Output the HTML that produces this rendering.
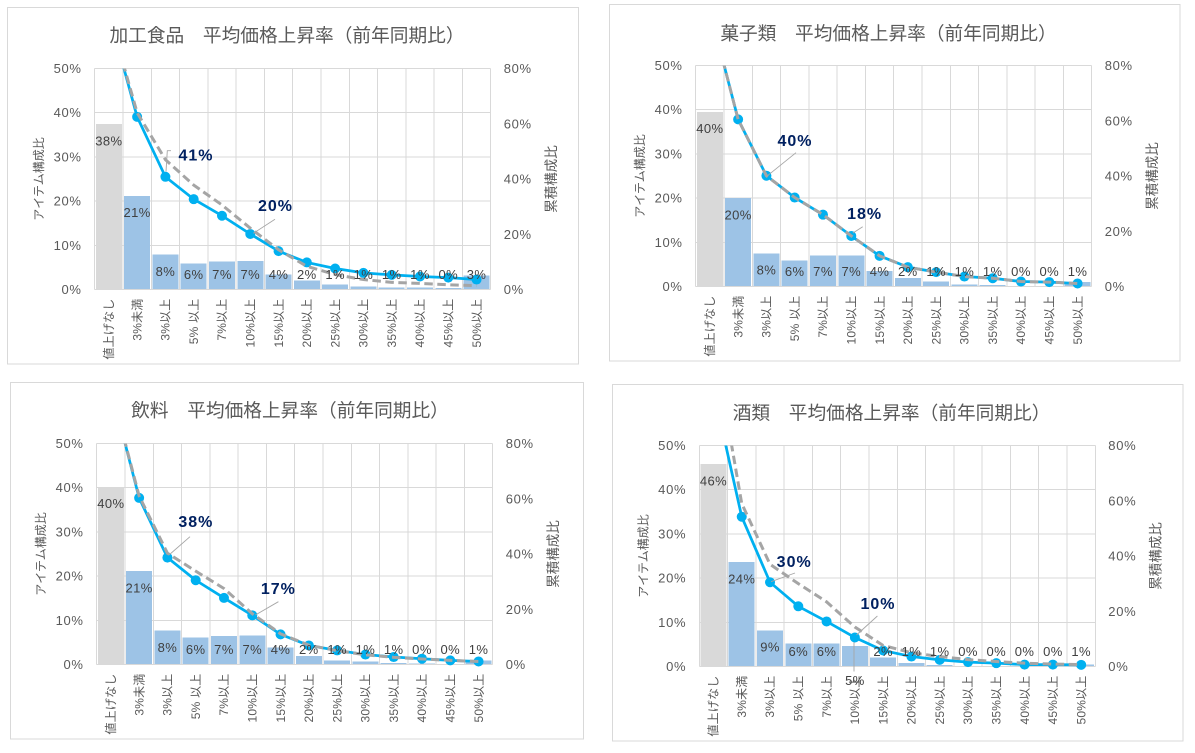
<!DOCTYPE html>
<html><head><meta charset="utf-8">
<style>
html,body{margin:0;padding:0;background:#fff;}
svg{display:block;}
text{font-family:"Liberation Sans","Noto Sans CJK JP",sans-serif;}
.ti{font-size:18.7px;fill:#595959;text-anchor:middle;}
.tkl text{font-size:13px;fill:#595959;text-anchor:end;letter-spacing:0.7px;}
.tkr text{font-size:13px;fill:#595959;text-anchor:start;letter-spacing:0.7px;}
.dl text{font-size:13px;fill:#404040;text-anchor:middle;letter-spacing:0.4px;}
.xl text{font-size:12px;fill:#595959;text-anchor:end;letter-spacing:0.2px;}
.hl{font-size:16px;font-weight:bold;fill:#002060;text-anchor:middle;letter-spacing:1px;}
.at{fill:#595959;text-anchor:middle;}
.grid{fill:none;stroke:#D9D9D9;stroke-width:1;}
.blue{fill:none;stroke:#00B0F0;stroke-width:2.75;stroke-linejoin:round;}
.gray{fill:none;stroke:#A5A5A5;stroke-width:3;stroke-dasharray:8.5 4.5;}
.mk circle{fill:#00B0F0;}
.ld{fill:none;stroke:#A6A6A6;stroke-width:0.9;}
.bb rect{fill:#9DC3E6;}
</style></head>
<body>
<svg width="1195" height="753" viewBox="0 0 1195 753" xmlns="http://www.w3.org/2000/svg">
<defs>
<path id="grid" d="M0 0H396M0 44.2H396M0 88.4H396M0 132.6H396M0 176.8H396M0 0V221M28.29 0V221M56.57 0V221M84.86 0V221M113.14 0V221M141.43 0V221M169.71 0V221M198 0V221M226.29 0V221M254.57 0V221M282.86 0V221M311.14 0V221M339.43 0V221M367.71 0V221M396 0V221"/>
<clipPath id="cp"><rect x="-20" y="0" width="440" height="260"/></clipPath>
</defs>
<rect x="0" y="0" width="1195" height="753" fill="#fff"/>

<!-- Borders -->
<rect x="7.5" y="7.5" width="571" height="356.5" fill="none" stroke="#D9D9D9"/>
<rect x="609.5" y="4.5" width="570.5" height="356.5" fill="none" stroke="#D9D9D9"/>
<rect x="10.5" y="382.5" width="573" height="356.5" fill="none" stroke="#D9D9D9"/>
<rect x="612.5" y="384.5" width="570.5" height="356.5" fill="none" stroke="#D9D9D9"/>

<!-- Titles -->
<text class="ti" x="287" y="42">加工食品　平均価格上昇率（前年同期比）</text>
<text class="ti" x="888.5" y="40">菓子類　平均価格上昇率（前年同期比）</text>
<text class="ti" x="290" y="417">飲料　平均価格上昇率（前年同期比）</text>
<text class="ti" x="891.6" y="419.7">酒類　平均価格上昇率（前年同期比）</text>

<!-- ================= CHART 1 ================= -->
<g transform="translate(94.7,68.5)">
<use href="#grid" class="grid" shape-rendering="crispEdges"/>
<g shape-rendering="crispEdges">
<rect x="1.14" y="55.7" width="26" height="165.3" fill="#D9D9D9"/>
<g class="bb">
<rect x="29.43" y="127.3" width="26" height="93.7"/>
<rect x="57.71" y="186.1" width="26" height="34.9"/>
<rect x="86" y="194.9" width="26" height="26.1"/>
<rect x="114.29" y="193.2" width="26" height="27.8"/>
<rect x="142.57" y="192.3" width="26" height="28.7"/>
<rect x="170.86" y="206" width="26" height="15"/>
<rect x="199.14" y="212.2" width="26" height="8.8"/>
<rect x="227.43" y="216.1" width="26" height="4.9"/>
<rect x="255.71" y="217.9" width="26" height="3.1"/>
<rect x="284" y="219" width="26" height="2"/>
<rect x="312.29" y="218.8" width="26" height="2.2"/>
<rect x="340.57" y="219.7" width="26" height="1.3"/>
<rect x="368.86" y="206.9" width="26" height="14.1"/>
</g>
<path d="M0 221H396" stroke="#D9D9D9" stroke-width="1"/>
</g>
<g clip-path="url(#cp)">
<polyline class="blue" points="14.14,-55.25 42.43,48.34 70.71,108.29 99,130.67 127.29,147.24 155.57,165.47 183.86,182.6 212.14,193.93 240.43,200 268.71,204.42 297,206.36 325.29,208.02 353.57,209.12 381.86,211.05"/>
<g class="mk">
<circle cx="42.43" cy="48.34" r="5"/><circle cx="70.71" cy="108.29" r="5"/><circle cx="99" cy="130.67" r="5"/><circle cx="127.29" cy="147.24" r="5"/><circle cx="155.57" cy="165.47" r="5"/><circle cx="183.86" cy="182.6" r="5"/><circle cx="212.14" cy="193.93" r="5"/><circle cx="240.43" cy="200" r="5"/><circle cx="268.71" cy="204.42" r="5"/><circle cx="297" cy="206.36" r="5"/><circle cx="325.29" cy="208.02" r="5"/><circle cx="353.57" cy="209.12" r="5"/><circle cx="381.86" cy="211.05" r="5"/>
</g>
<polyline class="gray" points="14.14,-55.25 42.43,44.2 70.71,91.16 99,116.58 127.29,136.47 155.57,159.67 183.86,181.22 212.14,197.8 240.43,206.08 268.71,211.05 297,213.82 325.29,214.92 353.57,216.3 381.86,217.13"/>
</g>
<g class="dl">
<text x="14.14" y="77">38%</text><text x="42.43" y="148.6">21%</text><text x="70.71" y="207.4">8%</text><text x="99" y="210.7">6%</text><text x="127.29" y="210.7">7%</text><text x="155.57" y="210.7">7%</text><text x="183.86" y="210.7">4%</text><text x="212.14" y="210.7">2%</text><text x="240.43" y="210.7">1%</text><text x="268.71" y="210.7">1%</text><text x="297" y="210.7">1%</text><text x="325.29" y="210.7">1%</text><text x="353.57" y="210.7">0%</text><text x="381.86" y="210.7">3%</text>
</g>
<polyline class="ld" points="71.3,103.2 72.6,82.2 76.3,82.2"/>
<line class="ld" x1="158.6" y1="164.8" x2="180.3" y2="150.8"/>
<text class="hl" x="101.3" y="92">41%</text>
<text class="hl" x="180.8" y="142.7">20%</text>
<g class="tkl">
<text x="-13" y="225.5">0%</text><text x="-13" y="181.3">10%</text><text x="-13" y="137.1">20%</text><text x="-13" y="92.9">30%</text><text x="-13" y="48.7">40%</text><text x="-13" y="4.5">50%</text>
</g>
<g class="tkr">
<text x="409" y="225.5">0%</text><text x="409" y="170.25">20%</text><text x="409" y="115">40%</text><text x="409" y="59.75">60%</text><text x="409" y="4.5">80%</text>
</g>
<text class="at" font-size="12" transform="translate(-56,110.5) rotate(-90)" dy="0.35em">アイテム構成比</text>
<text class="at" font-size="13.5" transform="translate(456.5,110.5) rotate(-90)" dy="0.35em">累積構成比</text>
<g class="xl">
<text transform="translate(14.14,230) rotate(-90)" dy="0.35em">値上げなし</text>
<text transform="translate(42.43,230) rotate(-90)" dy="0.35em">3%未満</text>
<text transform="translate(70.71,230) rotate(-90)" dy="0.35em">3%以上</text>
<text transform="translate(99,230) rotate(-90)" dy="0.35em">5% 以上</text>
<text transform="translate(127.29,230) rotate(-90)" dy="0.35em">7%以上</text>
<text transform="translate(155.57,230) rotate(-90)" dy="0.35em">10%以上</text>
<text transform="translate(183.86,230) rotate(-90)" dy="0.35em">15%以上</text>
<text transform="translate(212.14,230) rotate(-90)" dy="0.35em">20%以上</text>
<text transform="translate(240.43,230) rotate(-90)" dy="0.35em">25%以上</text>
<text transform="translate(268.71,230) rotate(-90)" dy="0.35em">30%以上</text>
<text transform="translate(297,230) rotate(-90)" dy="0.35em">35%以上</text>
<text transform="translate(325.29,230) rotate(-90)" dy="0.35em">40%以上</text>
<text transform="translate(353.57,230) rotate(-90)" dy="0.35em">45%以上</text>
<text transform="translate(381.86,230) rotate(-90)" dy="0.35em">50%以上</text>
</g>
</g>

<!-- ================= CHART 2 ================= -->
<g transform="translate(695.7,65.5)">
<use href="#grid" class="grid" shape-rendering="crispEdges"/>
<g shape-rendering="crispEdges">
<rect x="1.14" y="46.4" width="26" height="174.6" fill="#D9D9D9"/>
<g class="bb">
<rect x="29.43" y="132.6" width="26" height="88.4"/>
<rect x="57.71" y="187.85" width="26" height="33.15"/>
<rect x="86" y="194.92" width="26" height="26.08"/>
<rect x="114.29" y="190.06" width="26" height="30.94"/>
<rect x="142.57" y="190.06" width="26" height="30.94"/>
<rect x="170.86" y="205.53" width="26" height="15.47"/>
<rect x="199.14" y="212.6" width="26" height="8.4"/>
<rect x="227.43" y="216.14" width="26" height="4.86"/>
<rect x="255.71" y="218.79" width="26" height="2.21"/>
<rect x="284" y="219.67" width="26" height="1.33"/>
<rect x="312.29" y="220.34" width="26" height="0.66"/>
<rect x="340.57" y="220.56" width="26" height="0.44"/>
<rect x="368.86" y="216.58" width="26" height="4.42"/>
</g>
<path d="M0 221H396" stroke="#D9D9D9" stroke-width="1"/>
</g>
<g clip-path="url(#cp)">
<polyline class="blue" points="14.14,-55.25 42.43,53.87 70.71,110.22 99,132.05 127.29,149.17 155.57,170.45 183.86,190.34 212.14,201.66 240.43,206.63 268.71,211.05 297,212.71 325.29,216.03 353.57,216.58 381.86,217.96"/>
<g class="mk">
<circle cx="42.43" cy="53.87" r="5"/><circle cx="70.71" cy="110.22" r="5"/><circle cx="99" cy="132.05" r="5"/><circle cx="127.29" cy="149.17" r="5"/><circle cx="155.57" cy="170.45" r="5"/><circle cx="183.86" cy="190.34" r="5"/><circle cx="212.14" cy="201.66" r="5"/><circle cx="240.43" cy="206.63" r="5"/><circle cx="268.71" cy="211.05" r="5"/><circle cx="297" cy="212.71" r="5"/><circle cx="325.29" cy="216.03" r="5"/><circle cx="353.57" cy="216.58" r="5"/><circle cx="381.86" cy="217.96" r="5"/>
</g>
<polyline class="gray" points="14.14,-55.25 42.43,53.87 70.71,110.22 99,132.05 127.29,149.17 155.57,170.45 183.86,190.34 212.14,201.66 240.43,206.63 268.71,211.05 297,212.71 325.29,216.03 353.57,216.58 381.86,217.96"/>
</g>
<g class="dl">
<text x="14.14" y="67.7">40%</text><text x="42.43" y="153.9">20%</text><text x="70.71" y="209.15">8%</text><text x="99" y="210.7">6%</text><text x="127.29" y="210.7">7%</text><text x="155.57" y="210.7">7%</text><text x="183.86" y="210.7">4%</text><text x="212.14" y="210.7">2%</text><text x="240.43" y="210.7">1%</text><text x="268.71" y="210.7">1%</text><text x="297" y="210.7">1%</text><text x="325.29" y="210.7">0%</text><text x="353.57" y="210.7">0%</text><text x="381.86" y="210.7">1%</text>
</g>
<line class="ld" x1="71.8" y1="110.2" x2="100.3" y2="87.2"/>
<line class="ld" x1="157.3" y1="167.5" x2="167" y2="161.2"/>
<text class="hl" x="99.3" y="80.3">40%</text>
<text class="hl" x="168.9" y="153.7">18%</text>
<g class="tkl">
<text x="-13" y="225.5">0%</text><text x="-13" y="181.3">10%</text><text x="-13" y="137.1">20%</text><text x="-13" y="92.9">30%</text><text x="-13" y="48.7">40%</text><text x="-13" y="4.5">50%</text>
</g>
<g class="tkr">
<text x="409" y="225.5">0%</text><text x="409" y="170.25">20%</text><text x="409" y="115">40%</text><text x="409" y="59.75">60%</text><text x="409" y="4.5">80%</text>
</g>
<text class="at" font-size="12" transform="translate(-56,110.5) rotate(-90)" dy="0.35em">アイテム構成比</text>
<text class="at" font-size="13.5" transform="translate(456.5,110.5) rotate(-90)" dy="0.35em">累積構成比</text>
<g class="xl">
<text transform="translate(14.14,230) rotate(-90)" dy="0.35em">値上げなし</text>
<text transform="translate(42.43,230) rotate(-90)" dy="0.35em">3%未満</text>
<text transform="translate(70.71,230) rotate(-90)" dy="0.35em">3%以上</text>
<text transform="translate(99,230) rotate(-90)" dy="0.35em">5% 以上</text>
<text transform="translate(127.29,230) rotate(-90)" dy="0.35em">7%以上</text>
<text transform="translate(155.57,230) rotate(-90)" dy="0.35em">10%以上</text>
<text transform="translate(183.86,230) rotate(-90)" dy="0.35em">15%以上</text>
<text transform="translate(212.14,230) rotate(-90)" dy="0.35em">20%以上</text>
<text transform="translate(240.43,230) rotate(-90)" dy="0.35em">25%以上</text>
<text transform="translate(268.71,230) rotate(-90)" dy="0.35em">30%以上</text>
<text transform="translate(297,230) rotate(-90)" dy="0.35em">35%以上</text>
<text transform="translate(325.29,230) rotate(-90)" dy="0.35em">40%以上</text>
<text transform="translate(353.57,230) rotate(-90)" dy="0.35em">45%以上</text>
<text transform="translate(381.86,230) rotate(-90)" dy="0.35em">50%以上</text>
</g>
</g>

<!-- ================= CHART 3 ================= -->
<g transform="translate(96.7,443.5)">
<use href="#grid" class="grid" shape-rendering="crispEdges"/>
<g shape-rendering="crispEdges">
<rect x="1.14" y="43.32" width="26" height="177.68" fill="#D9D9D9"/>
<g class="bb">
<rect x="29.43" y="127.74" width="26" height="93.26"/>
<rect x="57.71" y="186.97" width="26" height="34.03"/>
<rect x="86" y="194.04" width="26" height="26.96"/>
<rect x="114.29" y="192.71" width="26" height="28.29"/>
<rect x="142.57" y="191.83" width="26" height="29.17"/>
<rect x="170.86" y="203.76" width="26" height="17.24"/>
<rect x="199.14" y="212.6" width="26" height="8.4"/>
<rect x="227.43" y="217.02" width="26" height="3.98"/>
<rect x="255.71" y="217.91" width="26" height="3.09"/>
<rect x="284" y="219.67" width="26" height="1.33"/>
<rect x="312.29" y="220.12" width="26" height="0.88"/>
<rect x="340.57" y="220.56" width="26" height="0.44"/>
<rect x="368.86" y="217.02" width="26" height="3.98"/>
</g>
<path d="M0 221H396" stroke="#D9D9D9" stroke-width="1"/>
</g>
<g clip-path="url(#cp)">
<polyline class="blue" points="14.14,-55.25 42.43,54.42 70.71,114.09 99,136.74 127.29,154.42 155.57,171.83 183.86,190.89 212.14,201.94 240.43,206.91 268.71,211.05 297,213.54 325.29,215.2 353.57,216.86 381.86,217.96"/>
<g class="mk">
<circle cx="42.43" cy="54.42" r="5"/><circle cx="70.71" cy="114.09" r="5"/><circle cx="99" cy="136.74" r="5"/><circle cx="127.29" cy="154.42" r="5"/><circle cx="155.57" cy="171.83" r="5"/><circle cx="183.86" cy="190.89" r="5"/><circle cx="212.14" cy="201.94" r="5"/><circle cx="240.43" cy="206.91" r="5"/><circle cx="268.71" cy="211.05" r="5"/><circle cx="297" cy="213.54" r="5"/><circle cx="325.29" cy="215.2" r="5"/><circle cx="353.57" cy="216.86" r="5"/><circle cx="381.86" cy="217.96" r="5"/>
</g>
<polyline class="gray" points="14.14,-55.25 42.43,52.49 70.71,109.67 99,127.63 127.29,145.03 155.57,170.17 183.86,190.34 212.14,201.66 240.43,207.19 268.71,211.33 297,213.82 325.29,215.47 353.57,216.86 381.86,217.96"/>
</g>
<g class="dl">
<text x="14.14" y="64.6">40%</text><text x="42.43" y="149">21%</text><text x="70.71" y="208.3">8%</text><text x="99" y="210.7">6%</text><text x="127.29" y="210.7">7%</text><text x="155.57" y="210.7">7%</text><text x="183.86" y="210.7">4%</text><text x="212.14" y="210.7">2%</text><text x="240.43" y="210.7">1%</text><text x="268.71" y="210.7">1%</text><text x="297" y="210.7">1%</text><text x="325.29" y="210.7">0%</text><text x="353.57" y="210.7">0%</text><text x="381.86" y="210.7">1%</text>
</g>
<line class="ld" x1="72.3" y1="111.5" x2="93.3" y2="93.2"/>
<line class="ld" x1="158.7" y1="171.5" x2="181.7" y2="158.2"/>
<text class="hl" x="99.2" y="83.7">38%</text>
<text class="hl" x="181.7" y="150.3">17%</text>
<g class="tkl">
<text x="-13" y="225.5">0%</text><text x="-13" y="181.3">10%</text><text x="-13" y="137.1">20%</text><text x="-13" y="92.9">30%</text><text x="-13" y="48.7">40%</text><text x="-13" y="4.5">50%</text>
</g>
<g class="tkr">
<text x="409" y="225.5">0%</text><text x="409" y="170.25">20%</text><text x="409" y="115">40%</text><text x="409" y="59.75">60%</text><text x="409" y="4.5">80%</text>
</g>
<text class="at" font-size="12" transform="translate(-56,110.5) rotate(-90)" dy="0.35em">アイテム構成比</text>
<text class="at" font-size="13.5" transform="translate(456.5,110.5) rotate(-90)" dy="0.35em">累積構成比</text>
<g class="xl">
<text transform="translate(14.14,230) rotate(-90)" dy="0.35em">値上げなし</text>
<text transform="translate(42.43,230) rotate(-90)" dy="0.35em">3%未満</text>
<text transform="translate(70.71,230) rotate(-90)" dy="0.35em">3%以上</text>
<text transform="translate(99,230) rotate(-90)" dy="0.35em">5% 以上</text>
<text transform="translate(127.29,230) rotate(-90)" dy="0.35em">7%以上</text>
<text transform="translate(155.57,230) rotate(-90)" dy="0.35em">10%以上</text>
<text transform="translate(183.86,230) rotate(-90)" dy="0.35em">15%以上</text>
<text transform="translate(212.14,230) rotate(-90)" dy="0.35em">20%以上</text>
<text transform="translate(240.43,230) rotate(-90)" dy="0.35em">25%以上</text>
<text transform="translate(268.71,230) rotate(-90)" dy="0.35em">30%以上</text>
<text transform="translate(297,230) rotate(-90)" dy="0.35em">35%以上</text>
<text transform="translate(325.29,230) rotate(-90)" dy="0.35em">40%以上</text>
<text transform="translate(353.57,230) rotate(-90)" dy="0.35em">45%以上</text>
<text transform="translate(381.86,230) rotate(-90)" dy="0.35em">50%以上</text>
</g>
</g>

<!-- ================= CHART 4 ================= -->
<g transform="translate(699.3,445.5)">
<use href="#grid" class="grid" shape-rendering="crispEdges"/>
<g shape-rendering="crispEdges">
<rect x="1.14" y="18.56" width="26" height="202.44" fill="#D9D9D9"/>
<g class="bb">
<rect x="29.43" y="116.69" width="26" height="104.31"/>
<rect x="57.71" y="184.76" width="26" height="36.24"/>
<rect x="86" y="198.02" width="26" height="22.98"/>
<rect x="114.29" y="198.02" width="26" height="22.98"/>
<rect x="142.57" y="200.67" width="26" height="20.33"/>
<rect x="170.86" y="212.16" width="26" height="8.84"/>
<rect x="199.14" y="217.68" width="26" height="3.32"/>
<rect x="227.43" y="219.67" width="26" height="1.33"/>
<rect x="255.71" y="220.34" width="26" height="0.66"/>
<rect x="284" y="220.56" width="26" height="0.44"/>
<rect x="312.29" y="220.56" width="26" height="0.44"/>
<rect x="340.57" y="220.56" width="26" height="0.44"/>
<rect x="368.86" y="218.79" width="26" height="2.21"/>
</g>
<path d="M0 221H396" stroke="#D9D9D9" stroke-width="1"/>
</g>
<line class="ld" x1="154.7" y1="192" x2="154.7" y2="226"/>
<g clip-path="url(#cp)">
<polyline class="blue" points="14.14,-55.25 42.43,71.27 70.71,136.74 99,160.78 127.29,175.97 155.57,191.99 183.86,204.98 212.14,211.05 240.43,214.37 268.71,216.58 297,217.68 325.29,219.07 353.57,219.07 381.86,219.34"/>
<g class="mk">
<circle cx="42.43" cy="71.27" r="5"/><circle cx="70.71" cy="136.74" r="5"/><circle cx="99" cy="160.78" r="5"/><circle cx="127.29" cy="175.97" r="5"/><circle cx="155.57" cy="191.99" r="5"/><circle cx="183.86" cy="204.98" r="5"/><circle cx="212.14" cy="211.05" r="5"/><circle cx="240.43" cy="214.37" r="5"/><circle cx="268.71" cy="216.58" r="5"/><circle cx="297" cy="217.68" r="5"/><circle cx="325.29" cy="219.07" r="5"/><circle cx="353.57" cy="219.07" r="5"/><circle cx="381.86" cy="219.34" r="5"/>
</g>
<polyline class="gray" points="14.14,-104.98 42.43,58.01 70.71,118.79 99,138.12 127.29,156.36 155.57,181.5 183.86,200 212.14,207.19 240.43,211.05 268.71,214.09 297,216.03 325.29,217.68 353.57,218.51 381.86,219.07"/>
</g>
<g class="dl">
<text x="14.14" y="39.9">46%</text><text x="42.43" y="138">24%</text><text x="70.71" y="206.1">9%</text><text x="99" y="210.7">6%</text><text x="127.29" y="210.7">6%</text><text x="155.57" y="239.3">5%</text><text x="183.86" y="210.7">2%</text><text x="212.14" y="210.7">1%</text><text x="240.43" y="210.7">1%</text><text x="268.71" y="210.7">0%</text><text x="297" y="210.7">0%</text><text x="325.29" y="210.7">0%</text><text x="353.57" y="210.7">0%</text><text x="381.86" y="210.7">1%</text>
</g>
<line class="ld" x1="71.7" y1="136.2" x2="95.7" y2="127.5"/>
<line class="ld" x1="157.2" y1="189.5" x2="178.1" y2="170.5"/>
<text class="hl" x="94.9" y="121.7">30%</text>
<text class="hl" x="178.7" y="163.3">10%</text>
<g class="tkl">
<text x="-13" y="225.5">0%</text><text x="-13" y="181.3">10%</text><text x="-13" y="137.1">20%</text><text x="-13" y="92.9">30%</text><text x="-13" y="48.7">40%</text><text x="-13" y="4.5">50%</text>
</g>
<g class="tkr">
<text x="409" y="225.5">0%</text><text x="409" y="170.25">20%</text><text x="409" y="115">40%</text><text x="409" y="59.75">60%</text><text x="409" y="4.5">80%</text>
</g>
<text class="at" font-size="12" transform="translate(-56,110.5) rotate(-90)" dy="0.35em">アイテム構成比</text>
<text class="at" font-size="13.5" transform="translate(456.5,110.5) rotate(-90)" dy="0.35em">累積構成比</text>
<g class="xl">
<text transform="translate(14.14,230) rotate(-90)" dy="0.35em">値上げなし</text>
<text transform="translate(42.43,230) rotate(-90)" dy="0.35em">3%未満</text>
<text transform="translate(70.71,230) rotate(-90)" dy="0.35em">3%以上</text>
<text transform="translate(99,230) rotate(-90)" dy="0.35em">5% 以上</text>
<text transform="translate(127.29,230) rotate(-90)" dy="0.35em">7%以上</text>
<text transform="translate(155.57,230) rotate(-90)" dy="0.35em">10%以上</text>
<text transform="translate(183.86,230) rotate(-90)" dy="0.35em">15%以上</text>
<text transform="translate(212.14,230) rotate(-90)" dy="0.35em">20%以上</text>
<text transform="translate(240.43,230) rotate(-90)" dy="0.35em">25%以上</text>
<text transform="translate(268.71,230) rotate(-90)" dy="0.35em">30%以上</text>
<text transform="translate(297,230) rotate(-90)" dy="0.35em">35%以上</text>
<text transform="translate(325.29,230) rotate(-90)" dy="0.35em">40%以上</text>
<text transform="translate(353.57,230) rotate(-90)" dy="0.35em">45%以上</text>
<text transform="translate(381.86,230) rotate(-90)" dy="0.35em">50%以上</text>
</g>
</g>
</svg>
</body></html>
